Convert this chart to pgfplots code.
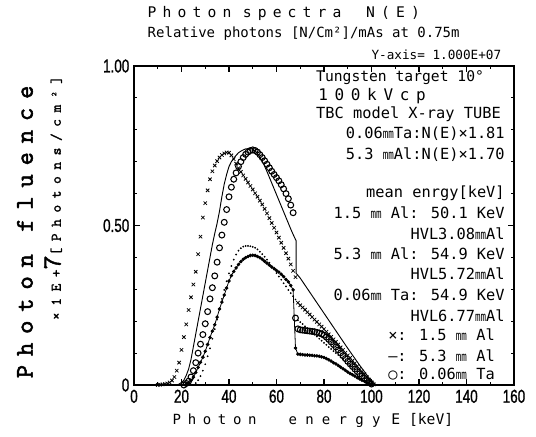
\documentclass[border=0pt]{standalone}
\usepackage{fontspec}
\usepackage{graphicx}
\usepackage{pgfplots}
\pgfplotsset{compat=1.18}
\setmainfont{DejaVu Sans Mono}
\newfontfamily\monof{DejaVu Sans Mono}
\newfontfamily\tickf[FakeStretch=0.72,FakeBold=1]{Liberation Sans}
\newfontfamily\ylabf[LetterSpace=35,FakeBold=2]{lmmono10-regular.otf}
\newfontfamily\ylabsf[LetterSpace=45,FakeBold=1.5]{lmmono10-regular.otf}
\newcommand\mm{\scalebox{0.6}[0.85]{mm}}
% letters spaced apart by hand
\makeatletter
\newcommand\ls[2]{\@tfor\@c:=#2\do{\@c\hspace{#1}}}
\makeatother

\begin{document}
\begin{tikzpicture}
\path[use as bounding box] (-100.5pt,-38.25pt) rectangle (301.5pt,288.75pt);
\begin{axis}[at={(0,0)},anchor=south west,width=285pt,height=239.25pt,scale only axis,
  xmin=0,xmax=160,ymin=0,ymax=1,clip=false,
  xtick={0,20,...,160},xticklabels={0,20,40,60,80,100,120,140,160},minor x tick num=1,
  ytick={0,0.5,1},yticklabels={0,0.50,1.00},minor y tick num=4,
  tick align=inside,major tick length=4.5pt,minor tick length=2.5pt,
  axis line style={line width=1.2pt},tick style={line width=0.8pt,black},
  ticklabel style={font=\tickf\fontsize{14}{14}\selectfont}]

% x : 1.5 mm Al
\addplot[only marks,mark=x,mark size=1.8pt,mark options={line width=0.6pt}] table {
E N
10 0.000
11 0.001
12 0.002
13 0.003
14 0.005
15 0.008
16 0.014
17 0.025
18 0.045
19 0.070
20 0.110
21 0.150
22 0.190
23 0.235
24 0.275
25 0.315
26 0.355
27 0.410
28 0.465
29 0.525
30 0.570
31 0.610
32 0.645
33 0.670
34 0.688
35 0.702
36 0.713
37 0.721
38 0.726
39 0.729
40 0.728
41 0.720
42 0.708
43 0.694
44 0.680
45 0.668
46 0.657
47 0.646
48 0.635
49 0.624
50 0.613
51 0.601
52 0.590
53 0.578
54 0.566
55 0.552
56 0.538
57 0.523
58 0.508
59 0.493
60 0.478
61 0.462
62 0.446
63 0.430
64 0.413
65 0.396
66 0.378
67 0.358
68 0.338
69 0.258
70 0.250
71 0.243
72 0.236
73 0.228
74 0.221
75 0.213
76 0.205
77 0.198
78 0.190
79 0.183
80 0.175
81 0.167
82 0.159
83 0.151
84 0.143
85 0.135
86 0.127
87 0.118
88 0.110
89 0.101
90 0.093
91 0.085
92 0.076
93 0.068
94 0.059
95 0.051
96 0.042
97 0.034
98 0.025
99 0.017
100 0.009
101 0.002
};

% solid : 5.3 mm Al x 1.70
\addplot[black,line width=0.7pt] table {
E N
18 0.000
19 0.003
20 0.008
21 0.015
22 0.030
23 0.050
24 0.080
25 0.120
26 0.160
27 0.200
28 0.240
29 0.280
30 0.320
31 0.360
32 0.400
33 0.440
34 0.475
35 0.507
36 0.545
37 0.590
38 0.630
39 0.660
40 0.685
41 0.700
42 0.711
43 0.720
44 0.728
45 0.733
46 0.737
47 0.740
48 0.741
49 0.741
50 0.739
51 0.734
52 0.726
53 0.714
54 0.701
55 0.686
56 0.669
57 0.651
58 0.633
59 0.615
60 0.597
61 0.579
62 0.561
63 0.543
64 0.525
65 0.507
66 0.489
67 0.472
68 0.456
68.3 0.452
68.3 0.350
69 0.344
70 0.335
75 0.280
80 0.225
85 0.170
90 0.115
95 0.062
100 0.012
101 0.000
};

% thin dots : 5.3 mm Al
\addplot[only marks,mark=*,mark size=0.45pt] table {
E N
25 0.000
26 0.006
27 0.015
28 0.028
29 0.045
30 0.065
31 0.090
32 0.115
33 0.145
34 0.175
35 0.205
36 0.240
37 0.270
38 0.298
39 0.325
40 0.350
41 0.373
42 0.393
43 0.409
44 0.421
45 0.429
46 0.434
47 0.436
48 0.436
49 0.435
50 0.433
51 0.430
52 0.425
53 0.418
54 0.410
55 0.402
56 0.393
57 0.383
58 0.372
59 0.362
60 0.351
61 0.340
62 0.330
63 0.319
64 0.309
65 0.298
66 0.288
67 0.278
68 0.268
69 0.203
70 0.197
71 0.191
72 0.184
73 0.178
74 0.171
75 0.165
76 0.158
77 0.152
78 0.145
79 0.139
80 0.132
81 0.126
82 0.119
83 0.113
84 0.106
85 0.100
86 0.094
87 0.087
88 0.081
89 0.074
90 0.068
91 0.062
92 0.055
93 0.049
94 0.042
95 0.036
96 0.030
97 0.024
98 0.018
99 0.012
100 0.007
101 0.002
};

% circles : 0.06 mm Ta x 1.81
\addplot[only marks,mark=o,mark size=2.2pt,mark options={line width=0.8pt}] table {
E N
21 0.000
22 0.005
23 0.012
24 0.025
25 0.045
26 0.070
27 0.100
28 0.128
29 0.158
30 0.192
31 0.230
32 0.270
33 0.305
34 0.342
35 0.385
36 0.430
37 0.470
38 0.510
39 0.550
40 0.590
41 0.620
42 0.645
43 0.665
44 0.685
45 0.700
46 0.713
47 0.723
48 0.730
49 0.735
50 0.737
51 0.735
52 0.730
53 0.722
54 0.713
55 0.703
56 0.692
57 0.681
58 0.670
59 0.660
60 0.650
61 0.640
62 0.628
63 0.615
64 0.600
65 0.584
66 0.564
67 0.540
68 0.210
69 0.176
70 0.173
71 0.172
72 0.171
73 0.170
74 0.169
75 0.168
76 0.167
77 0.165
78 0.163
79 0.160
80 0.156
81 0.150
82 0.143
83 0.135
84 0.127
85 0.119
86 0.110
87 0.101
88 0.092
89 0.083
90 0.074
91 0.066
92 0.058
93 0.050
94 0.042
95 0.035
96 0.028
97 0.021
98 0.014
99 0.008
100 0.003
};

% bold dots : 0.06 mm Ta
\addplot[black,line width=0.6pt,mark=*,mark size=1.0pt] table {
E N
22 0.003
23 0.007
24 0.014
25 0.025
26 0.039
27 0.055
28 0.071
29 0.087
30 0.106
31 0.127
32 0.149
33 0.169
34 0.189
35 0.213
36 0.238
37 0.260
38 0.282
39 0.304
40 0.326
41 0.343
42 0.356
43 0.367
44 0.378
45 0.387
46 0.394
47 0.399
48 0.403
49 0.406
50 0.407
51 0.406
52 0.403
53 0.399
54 0.394
55 0.388
56 0.382
57 0.376
58 0.370
59 0.365
60 0.359
61 0.354
62 0.347
63 0.340
64 0.331
65 0.323
66 0.312
67 0.298
68 0.116
69 0.097
70 0.096
71 0.095
72 0.094
73 0.094
74 0.093
75 0.093
76 0.092
77 0.091
78 0.090
79 0.088
80 0.086
81 0.083
82 0.079
83 0.075
84 0.070
85 0.066
86 0.061
87 0.056
88 0.051
89 0.046
90 0.041
91 0.036
92 0.032
93 0.028
94 0.023
95 0.019
96 0.015
97 0.012
98 0.008
99 0.004
100 0.002
};

% titles
\node[anchor=west,font=\monof\fontsize{11}{11}\selectfont] at (axis cs:3.8,1.166) {\ls{4.6pt}{Photon}\hspace{4pt}\ls{4.6pt}{spectra}\hspace{14pt}\ls{4.6pt}{N(E)}};
\node[anchor=west,font=\monof\fontsize{10.5}{10.5}\selectfont] at (axis cs:3.8,1.103) {Relative photons [N/Cm²]/mAs at 0.75m};
\node[anchor=east,font=\monof\fontsize{9.5}{9.5}\selectfont] at (axis cs:156.6,1.035) {Y-axis= 1.000E+07};
% axis labels
\node[rotate=90,font=\ylabf\fontsize{19}{19}\selectfont] at (axis cs:-45.9,0.48) {Photon fluence};
\node[rotate=90,font=\ylabsf\fontsize{11}{11}\selectfont] at (axis cs:-34.1,0.586) {×1E+{\fontsize{20}{20}\selectfont 7}[Photons/cm²]};
\node[anchor=west,font=\monof\fontsize{10.5}{10.5}\selectfont] at (axis cs:14.3,-0.11) {\ls{5pt}{Photon}\hspace{19pt}\ls{6.2pt}{energy}\hspace{2pt}{\fontsize{11}{11}\selectfont E [keV]}};
% notes
\begin{scope}[every node/.style={font=\monof\fontsize{11.5}{11.5}\selectfont,inner sep=0pt}]
\node[anchor=west,font=\monof\fontsize{11}{11}\selectfont] at (axis cs:76.6,0.962) {Tungsten target 10°};
\node[anchor=west,font=\monof\fontsize{12}{12}\selectfont] at (axis cs:77.5,0.905) {\ls{5pt}{100kVcp}};
\node[anchor=west] at (axis cs:76.6,0.848) {TBC model X-ray TUBE};
\node[anchor=east] at (axis cs:156.2,0.788) {0.06\mm Ta:N(E)×1.81};
\node[anchor=east] at (axis cs:156.2,0.721) {5.3 \mm Al:N(E)×1.70};
\node[anchor=east] at (axis cs:156.2,0.602) {mean enrgy[keV]};
\node[anchor=east] at (axis cs:156.2,0.539) {1.5 \mm{} Al: 50.1 KeV};
\node[anchor=east] at (axis cs:156.2,0.473) {HVL3.08\mm Al};
\node[anchor=east] at (axis cs:156.2,0.411) {5.3 \mm{} Al: 54.9 KeV};
\node[anchor=east] at (axis cs:156.2,0.348) {HVL5.72\mm Al};
\node[anchor=east] at (axis cs:156.2,0.282) {0.06\mm{} Ta: 54.9 KeV};
\node[anchor=east] at (axis cs:156.2,0.216) {HVL6.77\mm Al};
\node[anchor=east] at (axis cs:152.0,0.157) {×: 1.5 \mm{} Al};
\node[anchor=east] at (axis cs:152.0,0.093) {—: 5.3 \mm{} Al};
\node[anchor=east] at (axis cs:152.0,0.035) {○: 0.06\mm{} Ta};
\end{scope}
\end{axis}
\end{tikzpicture}
\end{document}
